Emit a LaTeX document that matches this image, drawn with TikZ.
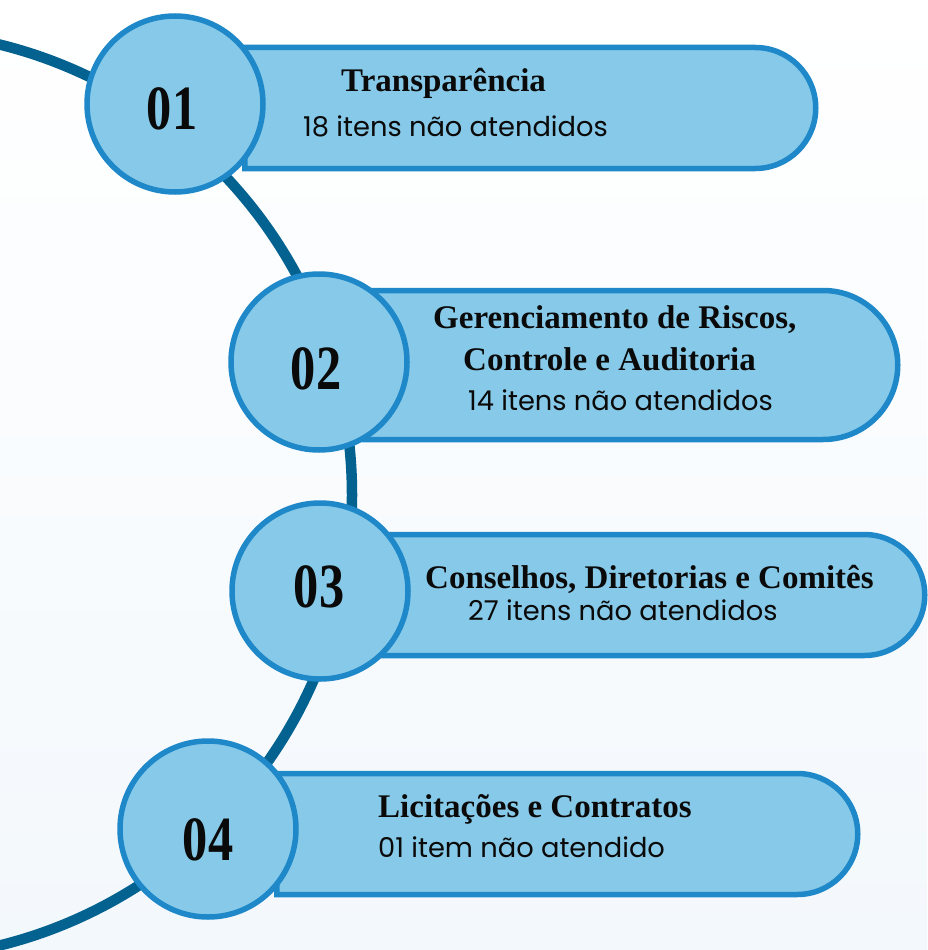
\documentclass[tikz,border=0pt]{standalone}
\usepackage{fontspec}
\setmainfont{Liberation Serif}
\newfontfamily\subfont{Poppins}
\usetikzlibrary{shapes.misc}
\definecolor{arcblue}{HTML}{03628F}
\definecolor{fillblue}{HTML}{87C9E8}
\definecolor{edgeblue}{HTML}{1F88C9}
\definecolor{bgblue}{HTML}{F3F8FC}
\definecolor{ink}{HTML}{0A0A0A}
\tikzset{
  arcline/.style={draw=arcblue, line width=10.5pt},
  pill/.style={rounded rectangle, rounded rectangle west arc=none, draw=edgeblue, fill=fillblue, line width=5.5pt, inner sep=0pt},
  numcirc/.style={circle, draw=edgeblue, fill=fillblue, line width=5.5pt, inner sep=0pt, minimum size=176pt},
  numtxt/.style={font=\bfseries\fontsize{63}{63}\selectfont, text=ink, inner sep=0pt},
  titletxt/.style={font=\bfseries\fontsize{33}{33}\selectfont, text=ink, inner sep=0pt, anchor=base west},
  subtxt/.style={font=\subfont\fontsize{27.3}{27.3}\selectfont, text=ink, inner sep=0pt, anchor=base west}
}
\begin{document}
\begin{tikzpicture}[x=1pt,y=-1pt]
\useasboundingbox (0,0) rectangle (927,950);
\shade[top color=white, middle color=white, bottom color=bgblue] (0,0) rectangle (927,950);
\begin{scope}
\clip (0,0) rectangle (927,950);
\draw[arcline] (-112,495) circle (464);
\end{scope}
% boxes
\node[pill, minimum width=571pt, minimum height=121pt, anchor=west] (b1) at (242,108) {};
\node[pill, minimum width=533pt, minimum height=149pt, anchor=west] (b2) at (362,365) {};
\node[pill, minimum width=545pt, minimum height=121pt, anchor=west] (b3) at (377,595) {};
\node[pill, minimum width=581pt, minimum height=121pt, anchor=west] (b4) at (274,834) {};
% circles
\node[numcirc] (c1) at (175,104) {};
\node[numcirc] (c2) at (319,362) {};
\node[numcirc] (c3) at (320,591) {};
\node[numcirc] (c4) at (208,829) {};
% numbers
\node[numtxt] (n1) at (172,109) {\scalebox{0.8}[1]{01}};
\node[numtxt] (n2) at (316,369) {\scalebox{0.8}[1]{02}};
\node[numtxt] (n3) at (319,587) {\scalebox{0.8}[1]{03}};
\node[numtxt] (n4) at (208,840) {\scalebox{0.8}[1]{04}};
% texts
\node[titletxt] (t1) at (341,92) {Transparência};
\node[subtxt] (s1) at (303,136) {18 itens não atendidos};
\node[titletxt] (t2a) at (433,328) {Gerenciamento de Riscos,};
\node[titletxt] (t2b) at (463,370) {Controle e Auditoria};
\node[subtxt] (s2) at (468,410) {14 itens não atendidos};
\node[titletxt] (t3) at (425,588) {Conselhos, Diretorias e Comitês};
\node[subtxt] (s3) at (468,620) {27 itens não atendidos};
\node[titletxt] (t4) at (378,817) {Licitações e Contratos};
\node[subtxt] (s4) at (378,857) {01 item não atendido};
\end{tikzpicture}
\end{document}
